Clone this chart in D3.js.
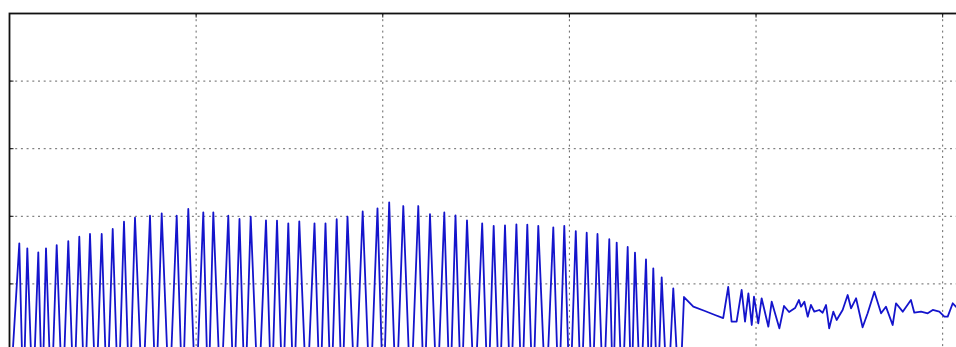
<!DOCTYPE html>
<html><head><meta charset="utf-8">
<script src="https://cdn.jsdelivr.net/npm/d3@7"></script>
<style>html,body{margin:0;padding:0;background:#fff;overflow:hidden}</style>
</head><body>
<svg id="chart" width="956" height="347"></svg>
<script>
// ---- data ----
const xTicks = [100, 200, 300, 400, 500];
const yTicks = [10, 20, 30, 40];
const peakX = [5.25,9.54,15.43,19.56,25.29,31.5,37.4,43.13,49.4,55.3,61.35,67.24,75.28,81.55,89.59,95.8,103.84,109.2,117.23,123.23,129.24,137.43,143.33,149.38,155.27,163.42,169.31,175.31,181.1,189.24,197.17,203.44,211.0,219.03,225.3,232.97,238.97,245.13,253.27,259.43,265.49,271.6,277.44,283.33,291.37,297.26,303.42,309.27,315.05,321.37,325.34,331.23,335.14,341.04,344.95,349.45,355.66,361.4];
const peakY = [16.0,15.26,14.67,15.26,15.75,16.34,16.98,17.38,17.38,18.12,19.2,19.79,20.08,20.44,20.08,21.08,20.59,20.59,20.08,19.6,19.94,19.4,19.37,18.96,19.26,18.96,18.96,19.57,19.94,20.72,21.18,22.07,21.52,21.52,20.31,20.56,20.14,19.4,18.96,18.59,18.66,18.81,18.77,18.59,18.37,18.59,17.82,17.57,17.38,16.61,16.12,15.46,14.64,13.64,12.31,10.97,9.35,8.06];
const troughX = [0,7.4,12.5,17.5,22.4,28.4,34.5,40.3,46.3,52.3,58.3,64.3,71.3,78.4,85.6,92.7,99.8,106.5,113.2,120.2,126.2,133.3,140.4,146.4,152.3,159.3,166.4,172.3,178.2,185.2,193.2,200.3,207.2,215.0,222.2,229.1,236.0,242.1,249.2,256.4,262.5,268.5,274.5,280.4,287.4,294.3,300.3,306.3,312.2,318.2,323.4,328.3,333.2,338.1,343.0,347.2,352.6,359.0];
const troughY = [-8,-8,-8,-8,-8,-8,-8,-8,-8,-8,-8,-8,-8,-8,-8,-8,-8,-8,-8,-8,-8,-8,-8,-8,-8,-8,-8,-8,-8,-8,-8,-8,-8,-8,-8,-8,-8,-8,-8,-8,-8,-8,-8,-8,-8,-8,-8,-8,-8,-8,-8,-8,-8,-8,-8,-8,-8,-8];
const tailX = [366.4,372.6,378.0,382.4,385.1,386.9,389.6,392.3,394.1,395.9,397.7,398.9,401.2,403.0,406.6,408.4,412.5,415.0,417.7,420.9,423.0,424.1,425.9,427.7,429.4,431.2,433.9,435.7,437.5,439.2,441.4,443.2,446.4,449.1,450.9,453.6,457.1,459.8,463.4,467.0,469.6,473.2,475.0,478.6,483.0,484.8,488.4,492.0,494.7,498.2,500.9,502.7,505.4,507.1,510.3];
const tailY = [6.63,5.99,5.40,4.95,9.54,4.41,4.41,9.10,4.41,8.61,3.92,8.10,4.17,7.87,3.67,7.37,3.43,6.73,5.84,6.43,7.62,6.63,7.37,5.15,6.88,5.89,6.14,5.74,6.88,3.43,5.89,4.66,6.14,8.36,6.39,7.87,3.58,5.65,8.84,5.65,6.63,3.92,7.13,5.89,7.62,5.74,5.89,5.65,6.14,5.89,5.15,5.15,7.13,6.63,5.69];

// ---- assemble series (troughs and peaks alternate) ----
const series = [];
for (let i = 0; i < peakX.length; i++) {
  series.push([troughX[i], troughY[i]]);
  series.push([peakX[i], peakY[i]]);
}
for (let i = 0; i < tailX.length; i++) series.push([tailX[i], tailY[i]]);

// ---- layout ----
const plotLeft = 9.5, plotTop = 13.5;
const W = 1119.8, H = 405.6;
const x = d3.scaleLinear().domain([0, 600]).range([plotLeft, plotLeft + W]);
const y = d3.scaleLinear().domain([-10, 50]).range([plotTop + H, plotTop]);

const svg = d3.select('#chart');
svg.append('rect').attr('width', 956).attr('height', 347).attr('fill', '#fff');

svg.append('defs').append('clipPath').attr('id', 'clip')
  .append('rect').attr('x', plotLeft).attr('y', plotTop).attr('width', W).attr('height', H);

// grid
const g = svg.append('g');
g.selectAll('line.vg').data(xTicks).join('line').attr('class', 'vg')
  .attr('x1', d => x(d)).attr('x2', d => x(d)).attr('y1', plotTop).attr('y2', plotTop + H)
  .attr('stroke', '#666').attr('stroke-width', 1).attr('stroke-dasharray', '2,3.7');
g.selectAll('line.hg').data(yTicks).join('line').attr('class', 'hg')
  .attr('y1', d => y(d)).attr('y2', d => y(d)).attr('x1', plotLeft).attr('x2', plotLeft + W)
  .attr('stroke', '#666').attr('stroke-width', 1).attr('stroke-dasharray', '2,3.7');

// line
const line = d3.line().x(d => x(d[0])).y(d => y(d[1]));
svg.append('path').datum(series)
  .attr('clip-path', 'url(#clip)')
  .attr('d', line).attr('fill', 'none')
  .attr('stroke', '#1414cc').attr('stroke-width', 1.8).attr('stroke-linejoin', 'round');

// ticks (inward)
g.selectAll('line.tt').data(xTicks).join('line').attr('class', 'tt')
  .attr('x1', d => x(d)).attr('x2', d => x(d)).attr('y1', plotTop).attr('y2', plotTop + 4)
  .attr('stroke', '#111').attr('stroke-width', 1);
g.selectAll('line.lt').data(yTicks).join('line').attr('class', 'lt')
  .attr('y1', d => y(d)).attr('y2', d => y(d)).attr('x1', plotLeft).attr('x2', plotLeft + 4)
  .attr('stroke', '#111').attr('stroke-width', 1);

// frame
svg.append('rect').attr('x', plotLeft).attr('y', plotTop).attr('width', W).attr('height', H)
  .attr('fill', 'none').attr('stroke', '#111').attr('stroke-width', 1.8);
</script>
</body></html>
